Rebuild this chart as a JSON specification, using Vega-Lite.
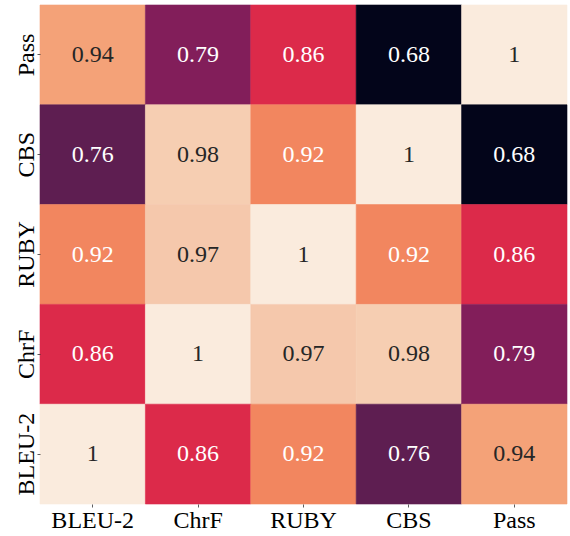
{
  "$schema": "https://vega.github.io/schema/vega-lite/v6.json",
  "description": "Correlation heatmap of evaluation metrics, rocket colour map, annotated cells.",
  "autosize": {"type": "none"},
  "padding": {"left": 40, "top": 5, "right": 3, "bottom": 32},
  "width": 527,
  "height": 499,
  "background": "white",
  "data": {
    "values": [
      {"row": "Pass", "col": "BLEU-2", "r": 0.94},
      {"row": "Pass", "col": "ChrF", "r": 0.79},
      {"row": "Pass", "col": "RUBY", "r": 0.86},
      {"row": "Pass", "col": "CBS", "r": 0.68},
      {"row": "Pass", "col": "Pass", "r": 1},
      {"row": "CBS", "col": "BLEU-2", "r": 0.76},
      {"row": "CBS", "col": "ChrF", "r": 0.98},
      {"row": "CBS", "col": "RUBY", "r": 0.92},
      {"row": "CBS", "col": "CBS", "r": 1},
      {"row": "CBS", "col": "Pass", "r": 0.68},
      {"row": "RUBY", "col": "BLEU-2", "r": 0.92},
      {"row": "RUBY", "col": "ChrF", "r": 0.97},
      {"row": "RUBY", "col": "RUBY", "r": 1},
      {"row": "RUBY", "col": "CBS", "r": 0.92},
      {"row": "RUBY", "col": "Pass", "r": 0.86},
      {"row": "ChrF", "col": "BLEU-2", "r": 0.86},
      {"row": "ChrF", "col": "ChrF", "r": 1},
      {"row": "ChrF", "col": "RUBY", "r": 0.97},
      {"row": "ChrF", "col": "CBS", "r": 0.98},
      {"row": "ChrF", "col": "Pass", "r": 0.79},
      {"row": "BLEU-2", "col": "BLEU-2", "r": 1},
      {"row": "BLEU-2", "col": "ChrF", "r": 0.86},
      {"row": "BLEU-2", "col": "RUBY", "r": 0.92},
      {"row": "BLEU-2", "col": "CBS", "r": 0.76},
      {"row": "BLEU-2", "col": "Pass", "r": 0.94}
    ]
  },
  "encoding": {
    "x": {
      "field": "col",
      "type": "nominal",
      "sort": ["BLEU-2", "ChrF", "RUBY", "CBS", "Pass"],
      "scale": {"paddingInner": 0, "paddingOuter": 0},
      "axis": {
        "title": null,
        "orient": "bottom",
        "labelAngle": 0,
        "labelAlign": "center",
        "labelBaseline": "alphabetic",
        "labelPadding": 20,
        "labelFont": "Liberation Serif",
        "labelFontSize": 24,
        "labelColor": "black",
        "domain": false,
        "grid": false,
        "tickSize": 3,
        "tickColor": "#333333",
        "tickWidth": 0.8
      }
    },
    "y": {
      "field": "row",
      "type": "nominal",
      "sort": ["Pass", "CBS", "RUBY", "ChrF", "BLEU-2"],
      "scale": {"paddingInner": 0, "paddingOuter": 0},
      "axis": {
        "title": null,
        "labelAngle": -90,
        "labelAlign": "center",
        "labelBaseline": "alphabetic",
        "labelPadding": 4,
        "labelFont": "Liberation Serif",
        "labelFontSize": 24,
        "labelColor": "black",
        "domain": false,
        "grid": false,
        "tickSize": 3,
        "tickColor": "#333333",
        "tickWidth": 0.8
      }
    }
  },
  "layer": [
    {
      "mark": {"type": "rect", "strokeWidth": 0.6},
      "encoding": {
        "color": {
          "field": "r",
          "type": "quantitative",
          "legend": null,
          "scale": {
            "domain": [0.68, 0.76, 0.79, 0.86, 0.92, 0.94, 0.97, 0.98, 1],
            "range": ["#03051a", "#5e1e51", "#821e5a", "#dc2a4a", "#f2865f", "#f4a278", "#f5c8ac", "#f6ceb2", "#faebdd"],
            "interpolate": "rgb"
          }
        },
        "stroke": {
          "field": "r",
          "type": "quantitative",
          "legend": null,
          "scale": {
            "domain": [0.68, 0.76, 0.79, 0.86, 0.92, 0.94, 0.97, 0.98, 1],
            "range": ["#03051a", "#5e1e51", "#821e5a", "#dc2a4a", "#f2865f", "#f4a278", "#f5c8ac", "#f6ceb2", "#faebdd"],
            "interpolate": "rgb"
          }
        }
      }
    },
    {
      "mark": {"type": "text", "font": "Liberation Serif", "fontSize": 24, "baseline": "middle", "align": "center"},
      "encoding": {
        "text": {"field": "r", "type": "quantitative"},
        "color": {
          "condition": {"test": "datum.r >= 0.93", "value": "#262626"},
          "value": "white"
        }
      }
    }
  ],
  "config": {"view": {"stroke": null}}
}
